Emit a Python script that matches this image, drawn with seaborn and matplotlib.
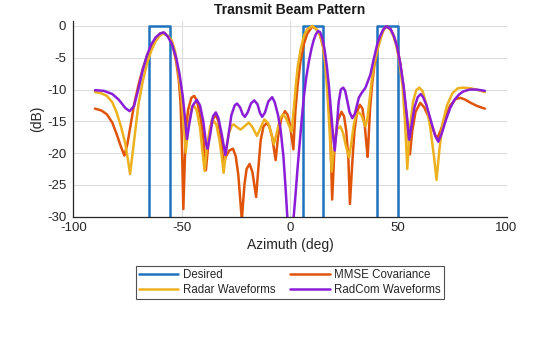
import numpy as np
import pandas as pd
import seaborn as sns
import matplotlib
matplotlib.use("Agg")
import matplotlib.pyplot as plt

# ---------------- data ----------------
desired_az = [-90, -65, -65, -55.5, -55.5, 6, 6, 15.3, 15.3, 40.4, 40.4, 50, 50, 90]
desired_db = [-60, -60, 0, 0, -60, -60, 0, 0, -60, -60, 0, 0, -60, -60]

mmse_az = [-90, -87, -84.5, -82, -80, -78, -76.4, -75, -73.5, -72, -70, -68, -66, -64, -62, -60, -58,
           -56, -54, -52.5, -51.3, -50.5, -49.9, -49.2, -48.5, -48, -47, -45.5, -44.2, -43, -41.5, -40,
           -38.8, -37.5, -36, -34.2, -33, -31.8, -30.6, -29.5, -28, -26.3, -25, -23.8, -22.2, -21, -20,
           -18.6, -17.3, -15.6, -14.6, -13.5, -12.2, -10.8, -9.5, -8.2, -6.6, -5.5, -4, -2.3, -1, 0, 1.6,
           2.5, 3.5, 4.9, 6.5, 8, 10.3, 12, 14, 15.5, 16.5, 17.5, 18.5, 19.5, 20.6, 22, 23.8, 25, 26,
           27, 27.7, 28.8, 29.8, 31, 32.3, 33.5, 34.5, 35.3, 35.9, 37, 38, 39, 40.5, 42, 43.5, 44.8,
           46.5, 48, 49.5, 51, 52.5, 54, 55.4, 56.5, 58, 60.2, 62, 64, 66, 67.9, 69.5, 71.5, 74, 76.5,
           78.7, 81, 83.5, 86.5, 90]
mmse_db = [-13.0, -13.3, -13.9, -15.2, -17.0, -19.0, -20.4, -18.5, -15.5, -12.5, -9.4, -6.8, -4.8,
           -3.2, -2.0, -1.2, -1.1, -1.7, -3.2, -5.6, -8.5, -12.0, -18.0, -28.8, -21.0, -16.5, -13.2,
           -11.3, -11.0, -11.7, -14.0, -17.5, -22.7, -18.0, -14.8, -14.0, -15.0, -18.0, -21.7, -20.5,
           -19.6, -19.3, -20.5, -23.5, -30.5, -25.0, -22.5, -21.7, -23.0, -26.9, -22.5, -18.0, -15.8,
           -15.3, -15.8, -17.5, -21.1, -17.5, -14.6, -13.4, -14.0, -15.5, -19.4, -13.5, -9.5, -5.5,
           -2.8, -1.2, -0.1, -0.4, -1.5, -3.5, -6.0, -9.5, -15.0, -27.3, -19.0, -15.0, -13.5, -14.2,
           -16.5, -21.0, -28.0, -21.5, -16.5, -13.5, -12.4, -13.0, -15.5, -18.5, -20.6, -13.0, -9.0,
           -6.2, -3.5, -1.6, -0.4, -0.1, -0.5, -1.6, -3.3, -6.0, -9.8, -14.5, -20.2, -16.5, -13.5,
           -12.1, -12.8, -14.3, -16.2, -17.8, -16.5, -14.5, -12.5, -11.5, -11.3, -11.6, -12.1, -12.6,
           -13.0]

radar_az = [-90, -87, -84.5, -82, -80, -78, -76, -74.8, -73.8, -72.8, -71.5, -70, -68, -66, -64, -62,
            -60, -58.5, -56.5, -54.5, -53, -51.5, -50, -49, -48.1, -47, -45.5, -44.4, -43, -41.5, -40.3,
            -39.4, -38.3, -36.8, -35.2, -34, -32.5, -31.3, -30.6, -29.6, -28.3, -26.8, -25.9, -24.5,
            -22.8, -21, -19, -17.3, -15.2, -13.5, -11.8, -10, -8.5, -7.4, -6, -4.5, -3.1, -1.8, -0.5,
            0.8, 1.8, 2.7, 3.6, 5, 6.5, 8, 10.4, 12.5, 14, 15.2, 16.3, 17.3, 18.3, 19.3, 20.3, 21.6,
            23.3, 24.5, 25.8, 27.3, 28.3, 29.5, 30.6, 31.8, 33, 34, 34.9, 35.8, 36.8, 37.8, 39, 40.5,
            42, 43, 44.3, 46, 47.5, 49, 50.5, 52, 53.2, 54.2, 55.3, 56.8, 58.3, 59.8, 61.3, 63, 64.8,
            66.5, 67.7, 69, 70.5, 72.5, 75, 77.5, 80, 83.5, 87, 90]
radar_db = [-10.4, -10.6, -11.0, -12.0, -13.6, -15.8, -18.5, -21.0, -23.3, -20.5, -16.8, -12.5, -8.8,
            -5.9, -3.9, -2.4, -1.5, -1.2, -1.5, -2.3, -4.0, -7.2, -11.5, -15.5, -19.9, -16.0, -13.0,
            -12.5, -13.3, -16.0, -20.0, -22.8, -19.0, -15.8, -14.9, -15.5, -18.0, -21.0, -23.1, -20.0,
            -17.0, -15.6, -15.5, -15.9, -16.3, -15.8, -15.2, -15.9, -17.3, -16.0, -14.7, -15.3, -17.0,
            -18.6, -16.7, -14.5, -13.9, -14.5, -15.6, -16.6, -13.0, -9.5, -6.4, -3.6, -1.5, -0.5, 0.0,
            -0.6, -1.6, -3.0, -6.0, -10.5, -16.5, -22.9, -19.0, -16.3, -15.8, -16.8, -18.8, -20.7,
            -18.5, -15.5, -14.0, -13.6, -14.0, -15.0, -15.8, -14.5, -11.5, -8.5, -5.8, -3.6, -1.9,
            -0.8, -0.1, -0.4, -1.3, -2.9, -5.5, -9.5, -15.5, -22.5, -16.5, -12.0, -10.1, -9.7, -10.3,
            -12.4, -16.0, -20.5, -24.2, -19.5, -15.3, -12.5, -10.6, -9.8, -9.7, -9.8, -10.1, -10.4]

radcom_az = [-90, -86, -82, -79, -76, -74, -72, -70, -68, -66, -64, -62, -60, -58.3, -56.5, -54.5,
             -52.5, -51, -49.5, -48.3, -47.5, -46.5, -45, -43, -41.5, -40, -38.7, -38, -37, -35.5,
             -34.2, -33, -31.5, -29.8, -28.5, -27, -25.5, -24.4, -23, -21.8, -20.8, -19.5, -18, -16.5,
             -15, -13.8, -12.8, -11.5, -10, -8.2, -7, -5.5, -4.3, -3, -2, -1.2, 0.3, 1.5, 2.6, 3.5,
             4.5, 5.5, 6.5, 7.5, 8.8, 10, 11, 12, 13, 14, 15, 16, 17, 18, 19, 20, 20.7, 21.5, 22.5,
             23.5, 24.6, 25.5, 26.5, 27.5, 28.8, 30, 31.8, 33, 34.9, 37.2, 38.5, 40.3, 41.5, 43, 44.5,
             46.5, 48, 49.5, 51, 52.5, 54, 55.1, 56, 57.5, 59, 60.4, 61.5, 63, 65, 67, 68.5, 70, 72,
             74, 76, 78, 80, 83, 86, 90]
radcom_db = [-10.1, -10.2, -10.7, -11.6, -12.9, -13.4, -12.6, -10.0, -7.0, -4.6, -2.9, -1.8, -1.2,
             -1.0, -1.6, -2.8, -5.0, -7.5, -11.0, -15.0, -17.8, -15.5, -12.6, -11.6, -12.5, -15.0,
             -18.6, -19.3, -17.5, -14.2, -13.6, -14.5, -17.0, -20.3, -17.5, -14.0, -12.5, -12.2,
             -12.8, -13.9, -14.3, -13.6, -12.2, -11.7, -12.3, -13.7, -14.3, -13.6, -11.9, -11.2,
             -12.0, -14.0, -16.3, -20.5, -25.5, -30.0, -38.0, -31.0, -26.5, -22.5, -18.5, -14.5,
             -11.0, -8.2, -5.5, -3.5, -2.2, -1.3, -0.8, -1.0, -2.0, -3.7, -6.2, -9.4, -13.5, -17.5,
             -19.6, -16.5, -12.0, -10.0, -9.7, -10.2, -11.8, -13.5, -14.5, -13.8, -11.3, -10.6, -9.7,
             -7.6, -5.5, -2.9, -1.7, -0.6, -0.05, -0.5, -1.6, -3.3, -6.0, -9.5, -14.2, -17.9, -16.0,
             -12.8, -11.2, -10.7, -11.2, -12.4, -14.8, -17.2, -18.2, -17.0, -14.8, -12.9, -11.6,
             -10.8, -10.3, -10.0, -10.0, -10.2]

labels = ["Desired", "MMSE Covariance", "Radar Waveforms", "RadCom Waveforms"]
colors = ["#1F72BE", "#E0540A", "#EDB120", "#8A1ED8"]
xticks = [-100, -50, 0, 50, 100]
yticks = [-30, -25, -20, -15, -10, -5, 0]

# ---------------- build long table ----------------
frames = []
for name, az, db in [(labels[0], desired_az, desired_db),
                     (labels[1], mmse_az, mmse_db),
                     (labels[2], radar_az, radar_db),
                     (labels[3], radcom_az, radcom_db)]:
    frames.append(pd.DataFrame({"Azimuth": az, "dB": db, "series": name}))
df = pd.concat(frames, ignore_index=True)

# ---------------- plot ----------------
sns.set_style("white")
plt.rcParams["font.family"] = ["Liberation Sans", "DejaVu Sans"]

fig = plt.figure(figsize=(5.6, 3.37), dpi=100)
ax = fig.add_axes([0.1309, 0.357, 0.7736, 0.5816])

for name, col in zip(labels, colors):
    sub = df[df["series"] == name]
    sns.lineplot(data=sub, x="Azimuth", y="dB", sort=False, estimator=None,
                 color=col, linewidth=1.8, label=name, ax=ax)

ax.set_xlim(-100, 100)
ax.set_ylim(-30, 0.83)
ax.set_xticks(xticks)
ax.set_yticks(yticks)
ax.set_xticklabels([str(t) for t in xticks], fontsize=9.5)
ax.set_yticklabels([str(t) for t in yticks], fontsize=9.5)
ax.grid(True, color="#DCDCDC", linewidth=0.8)
ax.set_axisbelow(True)
for s in ["top", "right"]:
    ax.spines[s].set_visible(False)
for s in ["left", "bottom"]:
    ax.spines[s].set_color("#262626")
    ax.spines[s].set_linewidth(0.9)
ax.tick_params(direction="in", length=3, width=0.8, colors="#262626")
ax.tick_params(axis="y", pad=5)
ax.tick_params(axis="x", pad=3.5)

ax.set_title("Transmit Beam Pattern", fontsize=10, fontweight="bold", pad=5, color="#1a1a1a")
ax.set_xlabel("Azimuth (deg)", fontsize=10, labelpad=3, color="#262626")
ax.set_ylabel("(dB)", fontsize=10, labelpad=2, color="#262626")

handles, labs = ax.get_legend_handles_labels()
order = [0, 2, 1, 3]
leg = ax.legend([handles[i] for i in order], [labs[i] for i in order],
                loc="upper center", bbox_to_anchor=(0.5, -0.25), ncol=2, fontsize=8.3,
                frameon=True, fancybox=False, edgecolor="#262626", handlelength=3.4,
                columnspacing=1.3, handletextpad=0.4, borderpad=0.3, labelspacing=0.22,
                borderaxespad=0)
leg.get_frame().set_linewidth(0.8)

fig.savefig("out.png", dpi=100)
